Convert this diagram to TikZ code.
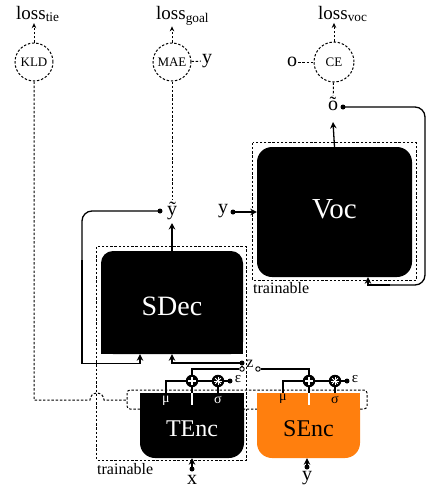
\documentclass[tikz,border=0pt]{standalone}
\usepackage{fontspec}
\setmainfont{Liberation Serif}
\usetikzlibrary{arrows.meta,backgrounds}
\definecolor{encorange}{RGB}{255,127,14}

\tikzset{
  dsh/.style={line width=1pt, dash pattern=on 2.4pt off 1.8pt},
  wire/.style={line width=1.3pt},
  arr/.style={wire, -{Stealth[length=6.5pt,width=6.5pt]}},
  darr/.style={dsh, -{Stealth[length=5pt,width=4.5pt]}},
  lossfn/.style={circle, draw, dsh, minimum size=38pt, inner sep=0pt, font=\fontsize{13}{13}\selectfont},
  lossname/.style={anchor=base west, inner sep=1pt, font=\fontsize{19}{19}\selectfont},
  var/.style={inner sep=1pt, font=\fontsize{20}{20}\selectfont},
  greek/.style={inner sep=0pt, font=\fontsize{14}{14}\selectfont},
  note/.style={inner sep=0pt, anchor=north west, font=\fontsize{16}{16}\selectfont},
  dot/.style={circle, fill, inner sep=0pt, minimum size=5pt},
  odot/.style={circle, draw, fill=white, line width=0.9pt, inner sep=0pt, minimum size=4.5pt},
  opnode/.style={circle, fill, inner sep=0pt, minimum size=12.5pt},
  plusop/.style={opnode, path picture={\draw[white, line width=1.8pt]
      (path picture bounding box.center) +(-4pt,0pt) -- +(4pt,0pt)
      +(0pt,-4pt) -- +(0pt,4pt);}},
  starop/.style={opnode, path picture={\foreach \a in {0,45,90,135}
      \draw[white, line width=1pt] (path picture bounding box.center)
      +(\a:4pt) -- +(\a+180:4pt);}},
  netbox/.style={rectangle, fill, rounded corners=#1, inner sep=0pt, text=white},
  notch/.style={white, line width=2.6pt}
}

\begin{document}
\begin{tikzpicture}[x=1pt,y=-1pt]
  \useasboundingbox (0,0) rectangle (431,491);

  % losses
  \node[lossfn] (kld) at (34,62) {KLD};
  \node[lossfn] (mae) at (172,62) {MAE};
  \node[lossfn, minimum size=40pt] (ce) at (334,62) {CE};
  \node[lossname] (losstie) at (15,19) {loss\textsubscript{tie}};
  \node[lossname] (lossgoal) at (155,19) {loss\textsubscript{goal}};
  \node[lossname] (lossvoc) at (317,19) {loss\textsubscript{voc}};
  \node[var] (ymae) at (207,61) {y};
  \node[var] (oce) at (292,62) {o};

  \draw[darr] (kld) -- (kld |- losstie.south);
  \draw[darr] (mae) -- (mae |- lossgoal.south);
  \draw[darr] (ce) -- (ce |- lossvoc.south);
  \draw[dsh] (mae) -- (ymae);
  \draw[dsh] (oce) -- (ce);

  % outputs
  \node[var, anchor=base] (ytil) at (172,215) {ỹ};
  \node[var, anchor=base] (otil) at (333,110) {õ};
  \node[dot] (ytdot) at (160,211) {};
  \node[dot] (otdot) at (343,107) {};
  \node[var] (yv) at (223,211) {y};
  \node[dot] (yvdot) at (233,212) {};
  \draw[dsh] (mae) -- (ytil);
  \draw[dsh] (ce) -- (otil);

  % networks
  \node[netbox=15pt, minimum width=155pt, minimum height=130pt,
    font=\fontsize{29}{29}\selectfont, text depth=6pt] (voc) at (334.5,212) {Voc};
  \node[netbox=12pt, minimum width=142pt, minimum height=103pt,
    font=\fontsize{28}{28}\selectfont, text height=26.5pt, text depth=0pt] (sdec) at (172,302.5) {SDec};
  \node[netbox=15pt, minimum width=104pt, minimum height=65pt,
    font=\fontsize{24}{24}\selectfont, text height=21pt, text depth=0pt] (tenc) at (192,425.5) {TEnc};
  \node[netbox=15pt, fill=encorange, text=black, minimum width=103pt, minimum height=65pt,
    font=\fontsize{24}{24}\selectfont, text height=21pt, text depth=0pt] (senc) at (308.5,425.5) {SEnc};

  \coordinate (mub) at (127,400);
  \begin{scope}[on background layer]
    \draw[dsh, rounded corners=3pt] (127,390) rectangle (367,409);
    \fill (sdec.west) rectangle (sdec.south east);
    \fill (tenc.north west) rectangle (tenc.east);
    \fill[encorange] (senc.north west) rectangle (senc.east);
  \end{scope}

  % trainable parts
  \draw[dsh] ([shift={(-4,-4)}]voc.north west) rectangle ([shift={(4,3)}]voc.south east);
  \node[note] (voctrain) at (253,282) {trainable};
  \draw[dsh] ([shift={(-4,-4)}]sdec.north west) rectangle ([shift={(2,2)}]tenc.south east);
  \node[note] (dectrain) at (97,463) {trainable};

  % tie line
  \draw[dsh] (kld) |- (90,400) arc (180:360:7) -- (mub);

  % decoder and vocoder wiring
  \draw[arr] (voc.north) -- ([yshift=-12pt]otil.base);
  \draw[arr] (sdec.north) -- ([yshift=-8pt]ytil.base);
  \draw[arr] (yvdot.center) -- (voc.west |- yvdot);
  \coordinate (vocloop) at (390,285);
  \draw[wire, rounded corners=10pt] (otdot.center) -- (425,107) -- (425,285) -- (vocloop);
  \draw[arr] (vocloop) -| ([xshift=33.5pt]voc.south);
  \coordinate (decloop) at (82,260);
  \draw[wire, rounded corners=10pt] (ytdot.center) -- (82,211) -- (decloop);
  \draw[arr] (decloop) |- ([xshift=-32pt, yshift=-9pt]sdec.south) -- ([xshift=-32pt]sdec.south);

  % switch z
  \node[dot] (zdot) at (242,363) {};
  \node[odot] (zt) at (242,369) {};
  \node[odot] (zs) at (258,369) {};
  \node[inner sep=0pt, font=\fontsize{16}{16}\selectfont] (zlbl) at (250,364) {z};
  \draw[wire] (zdot) -- (zt);
  \draw[arr] (zdot.center) -| (sdec.south);

  % text encoder
  \node[plusop] (tplus) at (192,381) {};
  \node[starop] (tstar) at (218,381) {};
  \node[dot] (tdot) at (230,381) {};
  \node[greek, font=\fontsize{15}{15}\selectfont] (teps) at (238,379) {ε};
  \node[greek, text=white] (tmu) at (166,401) {μ};
  \node[greek, text=white] (tsig) at (218,400) {σ};
  \draw[wire] (tenc.north -| tmu) |- (tplus);
  \draw[wire] (tenc.north -| tsig) -- (tstar);
  \draw[wire] (tplus) -- (tstar) -- (tdot.center);
  \draw[wire] (tplus) -- (tenc.north -| tplus);
  \draw[notch] (tenc.north -| tplus) -- ++(0,12);
  \draw[wire] (tplus) |- (zt);

  % speech encoder
  \node[plusop] (splus) at (309,381) {};
  \node[starop] (sstar) at (335,381) {};
  \node[dot] (sdot) at (347,381) {};
  \node[greek, font=\fontsize{15}{15}\selectfont] (seps) at (355,379) {ε};
  \node[greek] (smu) at (283,399) {μ};
  \node[greek] (ssig) at (335,400) {σ};
  \draw[wire] (senc.north -| smu) |- (splus);
  \draw[wire] (senc.north -| ssig) -- (sstar);
  \draw[wire] (splus) -- (sstar) -- (sdot.center);
  \draw[wire] (splus) -- (senc.north -| splus);
  \draw[notch] (senc.north -| splus) -- ++(0,12);
  \draw[wire] (splus) |- (zs);

  % inputs
  \node[dot] (xdot) at (192,469) {};
  \node[var] (xin) at (192,480) {x};
  \node[dot] (ydot) at (307,467) {};
  \node[var] (yin) at (307,478) {y};
  \draw[arr] (xdot.center) -- (tenc.south);
  \draw[arr] (ydot.center) -- (ydot |- senc.south);
\end{tikzpicture}
\end{document}
